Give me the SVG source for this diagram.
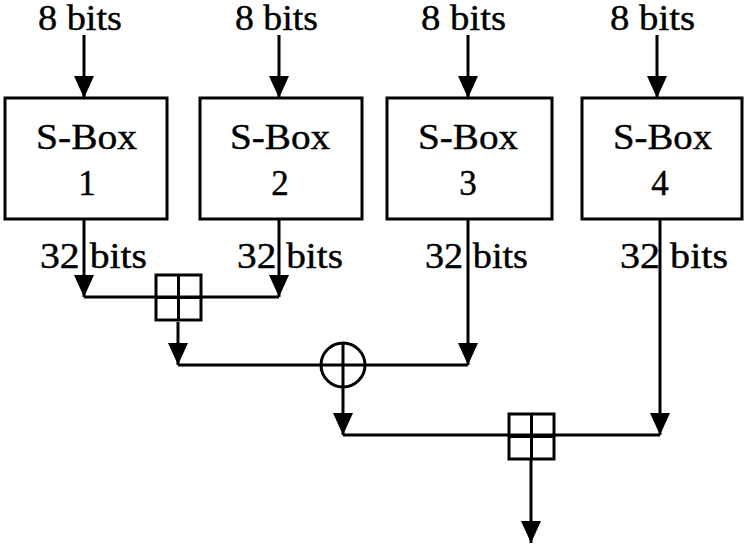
<svg xmlns="http://www.w3.org/2000/svg" width="750" height="549" viewBox="0 0 750 549">
<style>
.t{font-family:"Liberation Serif","Times New Roman",Tinos,serif;font-size:35px;fill:#000;stroke:#000;stroke-width:0.4}
.box{fill:#fff;stroke:#000;stroke-width:3}
.ln{fill:none;stroke:#000;stroke-width:3}
.arr{fill:none;stroke:#000;stroke-width:3;marker-end:url(#ah)}
</style>
<defs>
<marker id="ah" markerUnits="userSpaceOnUse" markerWidth="22" markerHeight="20" refX="22" refY="10" orient="auto">
<path d="M0,0 L22,10 L0,20 z" fill="#000"/>
</marker>
</defs>
<rect width="750" height="549" fill="#fff"/>
<g id="connectors">
<line class="arr" x1="84" y1="35" x2="84" y2="98"/>
<line class="arr" x1="279" y1="35" x2="279" y2="98"/>
<line class="arr" x1="468" y1="35" x2="468" y2="98"/>
<line class="arr" x1="657" y1="35" x2="657" y2="98"/>
<line class="arr" x1="84" y1="219" x2="84" y2="297"/>
<line class="arr" x1="279" y1="219" x2="279" y2="297"/>
<line class="ln" x1="84" y1="297" x2="279" y2="297"/>
<line class="arr" x1="178" y1="322" x2="178" y2="365"/>
<line class="arr" x1="468" y1="219" x2="468" y2="365"/>
<line class="ln" x1="178" y1="365" x2="468" y2="365"/>
<line class="arr" x1="343" y1="387" x2="343" y2="435"/>
<line class="arr" x1="660" y1="219" x2="660" y2="435"/>
<line class="ln" x1="343" y1="435" x2="660" y2="435"/>
<line class="arr" x1="531" y1="459" x2="531" y2="543"/>
</g>
<g id="label-in1"><text class="t" x="38" y="30" textLength="84" lengthAdjust="spacingAndGlyphs">8 bits</text></g>
<g id="label-in2"><text class="t" x="235" y="30" textLength="83" lengthAdjust="spacingAndGlyphs">8 bits</text></g>
<g id="label-in3"><text class="t" x="421" y="30" textLength="85" lengthAdjust="spacingAndGlyphs">8 bits</text></g>
<g id="label-in4"><text class="t" x="610" y="30" textLength="85" lengthAdjust="spacingAndGlyphs">8 bits</text></g>
<g id="sbox1"><rect class="box" x="5" y="98" width="162" height="121"/>
<text class="t" x="36" y="149" textLength="101" lengthAdjust="spacingAndGlyphs">S-Box</text>
<text class="t" x="87" y="195" text-anchor="middle">1</text></g>
<g id="sbox2"><rect class="box" x="200" y="98" width="162" height="121"/>
<text class="t" x="230" y="149" textLength="100" lengthAdjust="spacingAndGlyphs">S-Box</text>
<text class="t" x="280" y="195" text-anchor="middle">2</text></g>
<g id="sbox3"><rect class="box" x="387" y="98" width="165" height="121"/>
<text class="t" x="418" y="149" textLength="100" lengthAdjust="spacingAndGlyphs">S-Box</text>
<text class="t" x="468" y="195" text-anchor="middle">3</text></g>
<g id="sbox4"><rect class="box" x="582" y="98" width="160" height="121"/>
<text class="t" x="613" y="149" textLength="99" lengthAdjust="spacingAndGlyphs">S-Box</text>
<text class="t" x="660" y="195" text-anchor="middle">4</text></g>
<g id="label-out1"><text class="t" x="40" y="268" textLength="107" lengthAdjust="spacingAndGlyphs">32 bits</text></g>
<g id="label-out2"><text class="t" x="237" y="268" textLength="106" lengthAdjust="spacingAndGlyphs">32 bits</text></g>
<g id="label-out3"><text class="t" x="425" y="268" textLength="103" lengthAdjust="spacingAndGlyphs">32 bits</text></g>
<g id="label-out4"><text class="t" x="620" y="268" textLength="108" lengthAdjust="spacingAndGlyphs">32 bits</text></g>
<g id="add1"><rect class="ln" x="156" y="275" width="45" height="45"/>
<line class="ln" x1="178.5" y1="275" x2="178.5" y2="320"/>
<line class="ln" x1="156" y1="297.5" x2="201" y2="297.5"/></g>
<g id="xor"><circle class="ln" cx="343" cy="365" r="22"/>
<line class="ln" x1="343" y1="343" x2="343" y2="387"/></g>
<g id="add2"><rect class="ln" x="509" y="414" width="45" height="45"/>
<line class="ln" x1="531.5" y1="414" x2="531.5" y2="459"/>
<line class="ln" x1="509" y1="436.5" x2="554" y2="436.5"/></g>
</svg>
